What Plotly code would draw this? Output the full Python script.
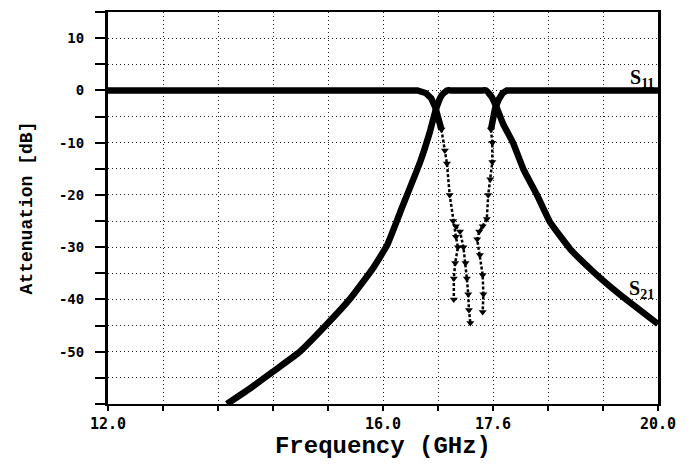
import plotly.graph_objects as go

# ---- data ----
s21_freq = [13.73, 14.10, 14.40, 14.79, 15.18, 15.52, 15.85, 16.06, 16.25, 16.54, 16.68, 16.77,
            16.85, 16.93, 16.98, 17.45, 17.50, 17.58, 17.66, 17.75, 17.89, 18.04, 18.24, 18.43,
            18.72, 19.06, 19.45, 20.0]
s21_db = [-60, -56.7, -53.8, -50, -44.8, -39.9, -34.1, -29.6, -23.3, -13.7, -8.0, -3.6,
          -1.0, 0, 0, 0, 0, -1.2, -3.5, -6.5, -10, -15, -20, -25.2,
          -30.3, -34.7, -39.1, -44.7]

s11_left_freq = [12.0, 16.50, 16.62, 16.70, 16.76, 16.81, 16.85]
s11_left_db = [0, 0, -0.5, -1.5, -3.2, -5.5, -7.5]
s11_right_freq = [17.57, 17.60, 17.63, 17.68, 17.74, 17.80, 20.0]
s11_right_db = [-7.5, -5.5, -3.5, -1.8, -0.5, 0, 0]

meas_a_freq = [16.85, 16.90, 16.93, 16.97, 17.02, 17.06, 17.09, 17.05, 17.03, 17.03]
meas_a_db = [-7.5, -11.5, -14, -20, -25, -28, -30, -33, -36, -40]
meas_b_freq = [17.06, 17.12, 17.17, 17.20, 17.22, 17.24, 17.25, 17.27]
meas_b_db = [-26, -27, -30, -33, -36, -39, -42, -44.5]
meas_c_freq = [17.57, 17.59, 17.59, 17.56, 17.53, 17.51, 17.45, 17.40, 17.37, 17.41, 17.45, 17.46, 17.45]
meas_c_db = [-7.5, -10, -13.7, -17, -20, -24.6, -26, -27, -28.5, -31.5, -35.3, -39, -42.4]

x_tickvals = [12.0, 12.8, 13.6, 14.4, 15.2, 16.0, 16.8, 17.6, 18.4, 19.2, 20.0]
x_ticktext = ["12.0", "", "", "", "", "16.0", "", "17.6", "", "", "20.0"]
y_tickvals = [15, 10, 5, 0, -5, -10, -15, -20, -25, -30, -35, -40, -45, -50, -55, -60]
y_ticktext = ["", "10", "", "0", "", "-10", "", "-20", "", "-30", "", "-40", "", "-50", "", ""]

fig = go.Figure()

thick = dict(color="black", width=6.5)
fig.add_trace(go.Scatter(x=s21_freq, y=s21_db, mode="lines",
                         line=dict(thick, shape="spline", smoothing=0.4), showlegend=False))
fig.add_trace(go.Scatter(x=s11_left_freq, y=s11_left_db, mode="lines", line=thick, showlegend=False))
fig.add_trace(go.Scatter(x=s11_right_freq, y=s11_right_db, mode="lines", line=thick, showlegend=False))

meas_style = dict(mode="lines+markers", line=dict(color="black", width=2.5, dash="3px,2px"),
                  marker=dict(symbol="triangle-down", size=7, color="black"), showlegend=False)
for fx, fy in [(meas_a_freq, meas_a_db), (meas_b_freq, meas_b_db), (meas_c_freq, meas_c_db)]:
    fig.add_trace(go.Scatter(x=fx, y=fy, **meas_style))

fig.add_annotation(x=19.77, y=2.3, text="<b>S<sub>11</sub></b>", showarrow=False,
                   font=dict(family="Liberation Serif", size=20, color="black"))
fig.add_annotation(x=19.76, y=-38.0, text="<b>S<sub>21</sub></b>", showarrow=False,
                   font=dict(family="Liberation Serif", size=20, color="black"))

grid = dict(showgrid=True, gridcolor="#222222", gridwidth=1, griddash="1px,3px")

fig.update_xaxes(range=[12, 20], tickvals=x_tickvals, ticktext=x_ticktext,
                 ticks="outside", ticklen=5, tickwidth=2, tickcolor="black",
                 showline=True, linecolor="black", linewidth=2, mirror=True,
                 zeroline=False, automargin=False,
                 tickfont=dict(family="DejaVu Sans Mono", size=15, color="black", weight="bold"),
                 title=dict(text="Frequency (GHz)", standoff=4,
                            font=dict(family="Liberation Mono", size=24, color="black", weight="bold")),
                 **grid)
fig.update_yaxes(range=[-60, 15], tickvals=y_tickvals, ticktext=y_ticktext,
                 ticks="outside", ticklen=10, tickwidth=2, tickcolor="black",
                 showline=True, linecolor="black", linewidth=3, mirror=True,
                 zeroline=False, automargin=False, ticklabelstandoff=8,
                 tickfont=dict(family="DejaVu Sans Mono", size=14, color="black", weight="bold"),
                 title=dict(text="Attenuation [dB]", standoff=22,
                            font=dict(family="Liberation Mono", size=18, color="black", weight="bold")),
                 **grid)

fig.update_layout(width=694, height=467, margin=dict(l=108, r=36, t=12, b=63),
                  plot_bgcolor="white", paper_bgcolor="white")

fig.write_html("out.html", config={"displayModeBar": False},
               post_script="document.body.style.margin='0';")
